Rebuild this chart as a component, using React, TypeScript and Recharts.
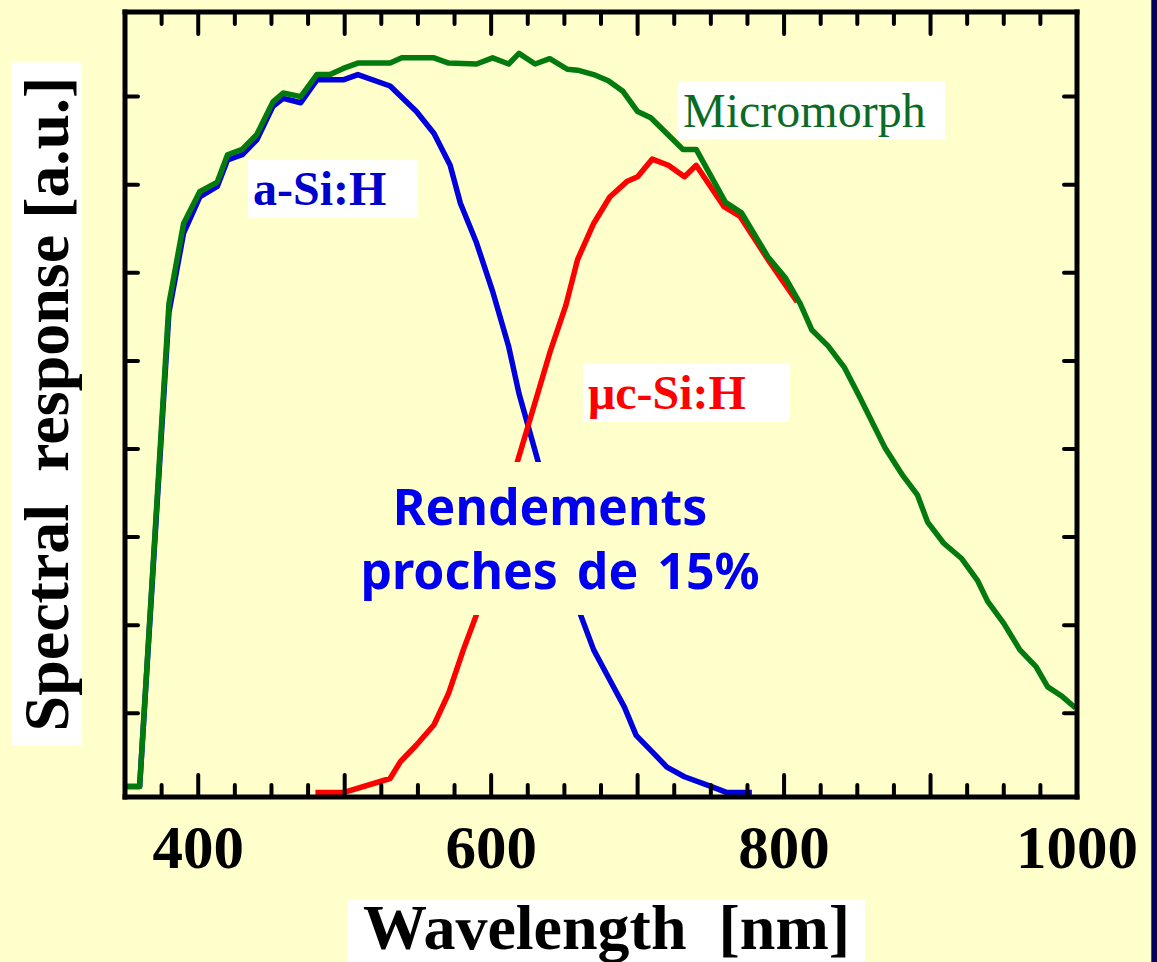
import { LineChart, Line, XAxis, YAxis } from 'recharts';

// wavelength [nm] / response [a.u.]
const aSiWavelength = [350, 360, 380, 390, 401, 413, 420, 430, 440, 451, 458, 470, 481, 490, 499, 509, 531, 549, 561, 572, 579, 590, 601, 612, 619, 632, 661, 670, 680, 691, 699, 709, 720, 732, 750, 761, 778];
const aSiResponse = [0.17, 0.17, 5.55, 6.45, 6.86, 6.98, 7.28, 7.34, 7.51, 7.89, 7.98, 7.93, 8.19, 8.19, 8.19, 8.25, 8.12, 7.83, 7.58, 7.22, 6.79, 6.34, 5.79, 5.16, 4.63, 3.86, 2.12, 1.72, 1.41, 1.07, 0.75, 0.58, 0.39, 0.28, 0.17, 0.1, 0.1];

const ucSiWavelength = [480, 499, 531, 538, 549, 561, 571, 581, 590, 618, 625, 640, 651, 659, 670, 681, 693, 700, 710, 721, 732, 740, 759, 770, 789, 809];
const ucSiResponse = [0.1, 0.1, 0.26, 0.45, 0.64, 0.87, 1.23, 1.72, 2.12, 3.86, 4.25, 5.09, 5.63, 6.15, 6.56, 6.86, 7.04, 7.09, 7.29, 7.22, 7.09, 7.22, 6.75, 6.64, 6.15, 5.67];

const microWavelength = [350, 360, 380, 390, 401, 413, 420, 430, 440, 451, 458, 470, 481, 490, 499, 509, 531, 539, 561, 571, 590, 601, 612, 619, 630, 640, 652, 659, 670, 680, 690, 700, 709, 731, 740, 760, 771, 789, 801, 811, 819, 830, 841, 851, 869, 881, 891, 898, 909, 921, 932, 939, 950, 961, 972, 980, 990, 999];
const microResponse = [0.17, 0.17, 5.65, 6.56, 6.92, 7.03, 7.34, 7.4, 7.57, 7.94, 8.04, 8.0, 8.25, 8.25, 8.32, 8.38, 8.38, 8.44, 8.44, 8.38, 8.37, 8.44, 8.37, 8.49, 8.37, 8.43, 8.31, 8.3, 8.25, 8.18, 8.06, 7.83, 7.76, 7.4, 7.4, 6.8, 6.68, 6.18, 5.94, 5.65, 5.35, 5.17, 4.93, 4.61, 4.01, 3.7, 3.48, 3.17, 2.93, 2.76, 2.51, 2.27, 2.02, 1.72, 1.53, 1.3, 1.19, 1.06];

const xTicks = [375, 400, 425, 450, 475, 500, 525, 550, 575, 600, 625, 650, 675, 700, 725, 750, 775, 800, 825, 850, 875, 900, 925, 950, 975, 1000];
const xLabels = [400, 600, 800, 1000];
const yTicks = [1, 2, 3, 4, 5, 6, 7, 8];

const toPoints = (xs: number[], ys: number[]) => xs.map((x, i) => ({ x, y: ys[i] }));

const SERIF = '"Times New Roman", "Liberation Serif", serif';
const BG = '#FFFFCC';

const XTick = (props: any) => {
  const { x, y, payload, top } = props;
  const v = payload.value;
  const len = v % 100 === 0 ? 22 : 12;
  return (
    <g>
      <line x1={x} x2={x} y1={y} y2={top ? y + len : y - len} stroke="#000" strokeWidth={4} strokeLinecap="round" />
      {!top && xLabels.includes(v) && (
        <text x={x} y={y + 71} textAnchor="middle" fontFamily={SERIF} fontWeight="bold" fontSize={61} fill="#000">
          {v}
        </text>
      )}
    </g>
  );
};

const YTick = (props: any) => {
  const { x, y, right } = props;
  return <line x1={x} x2={right ? x - 13 : x + 13} y1={y} y2={y} stroke="#000" strokeWidth={4} strokeLinecap="round" />;
};

const axisLine = { stroke: '#000', strokeWidth: 5, strokeLinecap: 'square' as const };

export default function App() {
  return (
    <div style={{ position: 'absolute', left: 0, top: 0, width: 1157, height: 962, background: BG, overflow: 'hidden' }}>
      <LineChart width={1157} height={962} margin={{ top: 11, right: 79, bottom: 164, left: 124 }}>
        <XAxis
          type="number"
          dataKey="x"
          domain={[350, 1000]}
          ticks={xTicks}
          interval={0}
          allowDataOverflow
          height={1}
          tickSize={0}
          tickMargin={0}
          axisLine={axisLine}
          tickLine={false}
          tick={<XTick />}
        />
        <XAxis
          xAxisId="top"
          orientation="top"
          type="number"
          dataKey="x"
          domain={[350, 1000]}
          ticks={xTicks}
          interval={0}
          allowDataOverflow
          height={1}
          tickSize={0}
          tickMargin={0}
          axisLine={axisLine}
          tickLine={false}
          tick={<XTick top />}
        />
        <YAxis
          type="number"
          domain={[0.05, 8.96]}
          ticks={yTicks}
          interval={0}
          allowDataOverflow
          width={1}
          tickSize={0}
          tickMargin={0}
          axisLine={axisLine}
          tickLine={false}
          tick={<YTick />}
        />
        <YAxis
          yAxisId="right"
          orientation="right"
          type="number"
          domain={[0.05, 8.96]}
          ticks={yTicks}
          interval={0}
          allowDataOverflow
          width={1}
          tickSize={0}
          tickMargin={0}
          axisLine={axisLine}
          tickLine={false}
          tick={<YTick right />}
        />
        <Line data={toPoints(aSiWavelength, aSiResponse)} dataKey="y" type="linear" stroke="#0000DD" strokeWidth={5.5} dot={false} isAnimationActive={false} strokeLinejoin="round" />
        <Line data={toPoints(ucSiWavelength, ucSiResponse)} dataKey="y" type="linear" stroke="#FF0000" strokeWidth={5.5} dot={false} isAnimationActive={false} strokeLinejoin="round" />
        <Line data={toPoints(microWavelength, microResponse)} dataKey="y" type="linear" stroke="#037A0E" strokeWidth={5.5} dot={false} isAnimationActive={false} strokeLinejoin="round" />
      </LineChart>

      {/* series labels */}
      <div style={{ position: 'absolute', left: 248, top: 160, width: 170, height: 58, background: '#fff', color: '#0000CC', fontFamily: SERIF, fontWeight: 'bold', fontSize: 48, lineHeight: '58px', paddingLeft: 5, boxSizing: 'border-box' }}>
        a-Si:H
      </div>
      <div style={{ position: 'absolute', left: 678, top: 82, width: 267, height: 57, background: '#fff', color: '#0B6B26', fontFamily: SERIF, fontSize: 48, lineHeight: '57px', paddingLeft: 5, boxSizing: 'border-box' }}>
        Micromorph
      </div>
      <div style={{ position: 'absolute', left: 583, top: 363, width: 207, height: 59, background: '#fff', color: '#FF0000', fontFamily: SERIF, fontWeight: 'bold', fontSize: 48, lineHeight: '59px', paddingLeft: 5, boxSizing: 'border-box' }}>
        μc-Si:H
      </div>

      {/* efficiency note, masks the crossing */}
      <div style={{ position: 'absolute', left: 340, top: 462, width: 440, height: 153, background: BG, color: '#0000EE', fontFamily: '"Comic Sans MS", "Noto Sans", sans-serif', fontWeight: 'bold', fontSize: 50, wordSpacing: 6, lineHeight: '64px', textAlign: 'center', paddingTop: 12, boxSizing: 'border-box' }}>
        <span style={{ position: 'relative', left: -10 }}>Rendements</span>
        <br />
        proches de 15%
      </div>

      {/* axis titles */}
      <div style={{ position: 'absolute', left: 47, top: 404, transform: 'translate(-50%, -50%) rotate(-90deg)', whiteSpace: 'pre', background: '#fff', fontFamily: SERIF, fontWeight: 'bold', fontSize: 64, lineHeight: '70px', padding: '0 14px' }}>
        {'Spectral  response [a.u.]'}
      </div>
      <div style={{ position: 'absolute', left: 348, top: 900, width: 517, height: 62, whiteSpace: 'pre', background: '#fff', fontFamily: SERIF, fontWeight: 'bold', fontSize: 64, lineHeight: '56px', textAlign: 'center' }}>
        {'Wavelength  [nm]'}
      </div>

      <div style={{ position: 'absolute', left: 1151, top: 0, width: 6, height: 962, background: '#000060', borderLeft: '1px solid #3050B0', boxSizing: 'border-box' }} />
    </div>
  );
}
